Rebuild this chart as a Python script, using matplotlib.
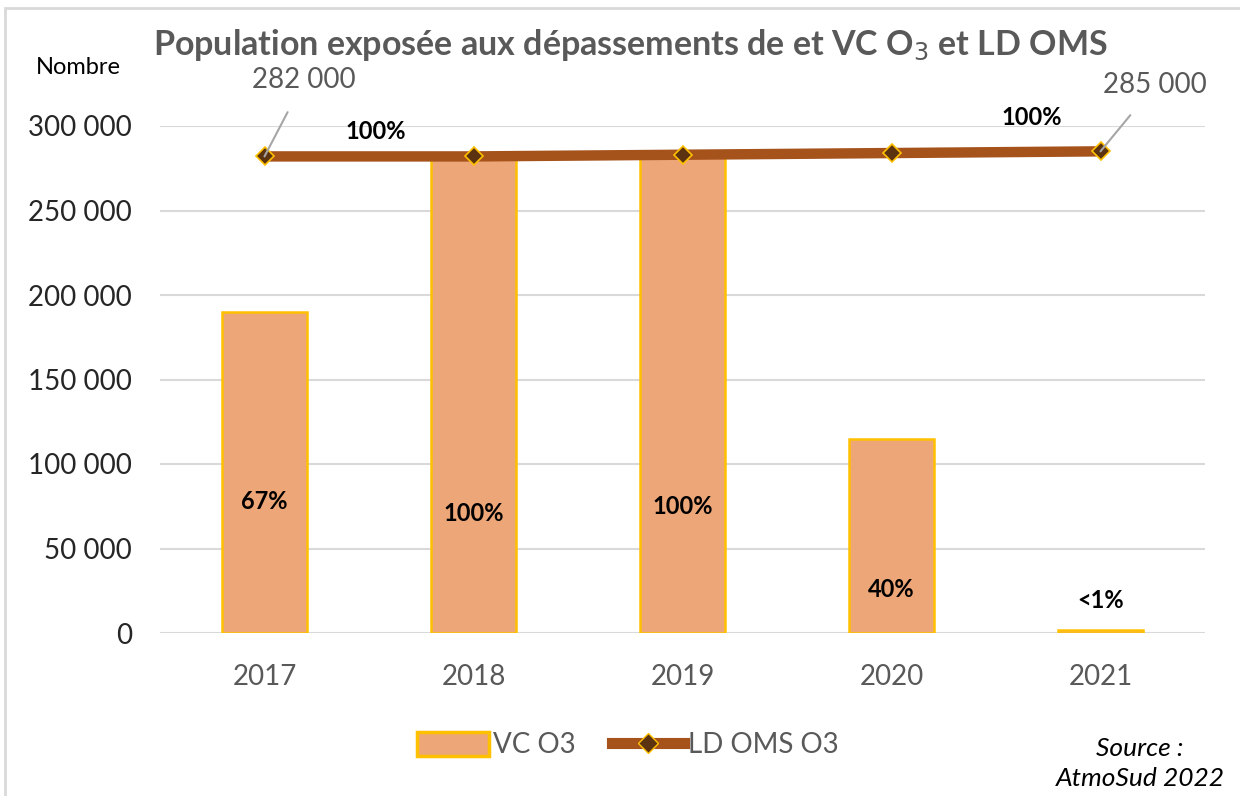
import matplotlib
matplotlib.use('Agg')
import matplotlib.pyplot as plt
from matplotlib.patches import Rectangle
from matplotlib.lines import Line2D

plt.rcParams['font.family'] = ['Lato', 'DejaVu Sans']

# données
annees = ['2017', '2018', '2019', '2020', '2021']
vc_o3 = [190000, 282000, 283000, 115000, 1500]
ld_oms_o3 = [282000, 282000, 283000, 284000, 285000]
pct_vc = ['67%', '100%', '100%', '40%', '<1%']
pct_vc_y = [78000, 71000, 75000, 26000, 19000]
etiquettes_ld = {0: '282 000', 4: '285 000'}

gris = '#595959'
fig = plt.figure(figsize=(12.4, 7.96), dpi=100)
ax = fig.add_axes([160 / 1240, 1 - 633 / 796, 1045 / 1240, 507 / 796])

x = list(range(len(annees)))
ax.bar(x, vc_o3, width=0.41, color='#EDA677', edgecolor='#FFC000', linewidth=1.8,
       zorder=2, label='VC O3')
ax.plot(x, ld_oms_o3, color='#A5521B', linewidth=7.5, marker='D', markersize=9,
        markerfacecolor='#5C3310', markeredgecolor='#FFC000', markeredgewidth=1.2,
        zorder=3, label='LD OMS O3', solid_capstyle='butt')

ax.set_xlim(-0.5, 4.5)
ax.set_ylim(0, 300000)
ax.set_yticks(range(0, 300001, 50000))
ax.set_yticklabels([f'{v:,}'.replace(',', ' ') for v in range(0, 300001, 50000)])
ax.set_xticks(x)
ax.set_xticklabels(annees)
ax.grid(axis='y', color='#D9D9D9', linewidth=1.5, zorder=0)
ax.set_axisbelow(True)
for s in ax.spines.values():
    s.set_visible(False)
ax.tick_params(axis='both', length=0, labelsize=20, colors=gris)
ax.tick_params(axis='y', pad=20, labelcolor='#262626')
ax.tick_params(axis='x', pad=22)

# pourcentages dans les barres
for i, (p, yy) in enumerate(zip(pct_vc, pct_vc_y)):
    ax.text(i, yy, p, ha='center', va='center', fontsize=17, fontweight='bold',
            color='black', zorder=4)

# pourcentages sur la courbe
ax.text(0.53, 297000, '100%', ha='center', va='center', fontsize=17, fontweight='bold',
        color='black', clip_on=False)
ax.text(3.67, 305000, '100%', ha='center', va='center', fontsize=17, fontweight='bold',
        color='black', clip_on=False)

# étiquettes de valeur avec lignes de rappel
ax.annotate(etiquettes_ld[0], xy=(0, ld_oms_o3[0]), xytext=(0.19, 327000),
            ha='center', va='center', fontsize=20, color=gris, annotation_clip=False,
            arrowprops=dict(arrowstyle='-', color='#A6A6A6', lw=1.5, shrinkA=13, shrinkB=0))
ax.annotate(etiquettes_ld[4], xy=(4, ld_oms_o3[4]), xytext=(4.26, 324000),
            ha='center', va='center', fontsize=20, color=gris, annotation_clip=False,
            arrowprops=dict(arrowstyle='-', color='#A6A6A6', lw=1.5, shrinkA=13, shrinkB=0))

fig.text(630 / 1240, 1 - 45 / 796, 'Population exposée aux dépassements de et VC O$_3$ et LD OMS',
         ha='center', va='center', fontsize=24.5, fontweight='bold', color=gris)
fig.text(78 / 1240, 1 - 68 / 796, 'Nombre', ha='center', va='center', fontsize=17, color='black')

# légende
handles = [Rectangle((0, 0), 1, 1, facecolor='#EDA677', edgecolor='#FFC000', linewidth=2.5),
           Line2D([0], [0], color='#A5521B', linewidth=8, marker='D', markersize=10,
                  markerfacecolor='#5C3310', markeredgecolor='#FFC000')]
leg = fig.legend(handles, ['VC O3', 'LD OMS O3'], loc='center', bbox_to_anchor=(628 / 1240, 1 - 745 / 796),
                 ncol=2, frameon=False, fontsize=20, handlelength=2.6, handleheight=1.0,
                 handletextpad=0.15, columnspacing=1.3)
for t in leg.get_texts():
    t.set_color(gris)

fig.text(1140 / 1240, 1 - 748 / 796, 'Source :', ha='center', va='center', fontsize=19,
         style='italic', color='black')
fig.text(1140 / 1240, 1 - 778 / 796, 'AtmoSud 2022', ha='center', va='center', fontsize=19,
         style='italic', color='black')

# cadre du graphique
fig.patches.append(Rectangle((5 / 1240, -0.01), 1.05, 1 - 8 / 796 + 0.01, transform=fig.transFigure,
                             fill=False, edgecolor='#D9D9D9', linewidth=2))

fig.savefig('out.png', dpi=100)
